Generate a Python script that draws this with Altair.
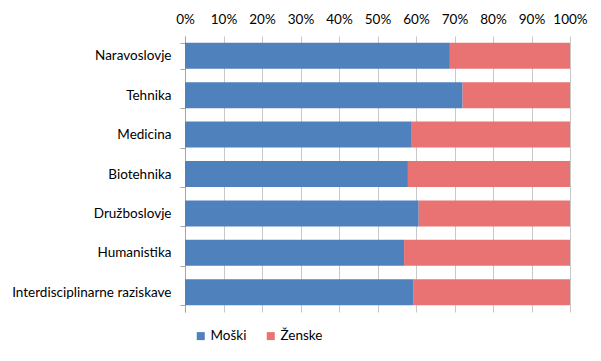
import altair as alt
import pandas as pd

categories = ["Naravoslovje", "Tehnika", "Medicina", "Biotehnika",
              "Družboslovje", "Humanistika", "Interdisciplinarne raziskave"]
series = ["Moški", "Ženske"]
moski = [68.8, 72.1, 58.9, 57.9, 60.7, 56.9, 59.4]
zenske = [31.2, 27.9, 41.1, 42.1, 39.3, 43.1, 40.6]
x_ticks = [0, 0.1, 0.2, 0.3, 0.4, 0.5, 0.6, 0.7, 0.8, 0.9, 1.0]
colors = ["#4F81BD", "#E97372"]

rows = []
for c, m, z in zip(categories, moski, zenske):
    rows.append({"cat": c, "spol": series[0], "val": m, "ord": 0})
    rows.append({"cat": c, "spol": series[1], "val": z, "ord": 1})
df = pd.DataFrame(rows)

FONT = "Lato"
FS = 13.5

chart = alt.Chart(df).mark_bar().encode(
    y=alt.Y("cat:N", sort=categories, title=None,
            scale=alt.Scale(paddingInner=0.34, paddingOuter=0.17),
            axis=alt.Axis(tickBand="extent", tickSize=5, tickColor="#A6A6A6",
                          domainColor="#A6A6A6", labelPadding=9, labelFontSize=FS,
                          labelColor="#000000", labelFont=FONT, grid=False)),
    x=alt.X("val:Q", stack="normalize", title=None,
            scale=alt.Scale(domain=[0, 1]),
            axis=alt.Axis(orient="top", values=x_ticks, format=".0%", ticks=False,
                          domain=False, grid=True, gridColor="#C8C8C8",
                          labelPadding=10, labelFontSize=FS, labelColor="#000000",
                          labelFont=FONT, labelFlush=False)),
    color=alt.Color("spol:N", sort=series,
                    scale=alt.Scale(domain=series, range=colors),
                    legend=alt.Legend(title=None, orient="none", direction="horizontal",
                                      legendX=9, legendY=293, symbolType="square",
                                      symbolSize=64, symbolStrokeWidth=0,
                                      labelFontSize=FS, labelFont=FONT,
                                      labelColor="#000000", columnPadding=17,
                                      labelOffset=3)),
    order=alt.Order("ord:Q"),
).properties(
    width=385, height=276,
    autosize=alt.AutoSizeParams(type="none"),
    padding={"left": 177, "top": 28, "right": 23, "bottom": 41},
).configure_view(stroke=None)

chart.save("out.html", embed_options={"renderer": "svg", "actions": False})
